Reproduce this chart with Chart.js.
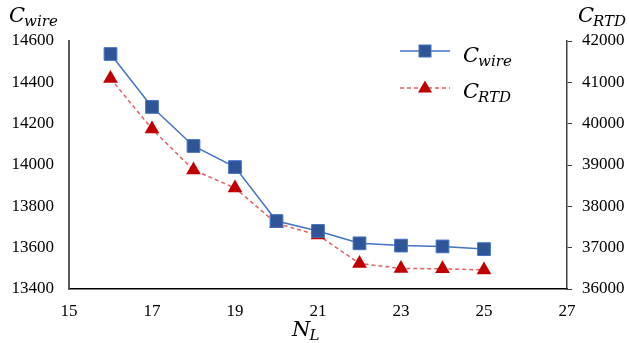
<!DOCTYPE html>
<html><head><meta charset="utf-8">
<script src="https://cdn.jsdelivr.net/npm/chart.js@4/dist/chart.umd.min.js"></script>
<style>html,body{margin:0;padding:0;background:#fff}#wrap{width:629px;height:343px;position:relative}</style>
</head><body><div id="wrap"><canvas id="c" width="629" height="343"></canvas></div>
<script>
const nL = [16, 17, 18, 19, 20, 21, 22, 23, 24, 25];
const cWire = [14537, 14281, 14092, 13990, 13729, 13681, 13621, 13610, 13606, 13593];
const cRTD = [41093, 39871, 38879, 38443, 37584, 37306, 36617, 36496, 36490, 36460];
const xTickLabels = [15, 17, 19, 21, 23, 25, 27];
const leftTickLabels = [13400, 13600, 13800, 14000, 14200, 14400, 14600];
const rightTickLabels = [36000, 37000, 38000, 39000, 40000, 41000, 42000];
const seriesNames = [['C', 'wire'], ['C', 'RTD']];
const axisTitles = { left: ['C', 'wire'], right: ['C', 'RTD'], x: ['N', 'L'] };

const BLUE_LINE = '#4472C4', BLUE_MARK = '#2F5597';
const RED_LINE = '#E45F62', RED_MARK = '#C00000';
const MATH_FONT = '"DejaVu Serif"';
const TICK_FONT = { family: '"Liberation Serif"', size: 17 };

function subText(ctx, parts, x, y, mainSize, subSize, drop) {
  ctx.save();
  ctx.fillStyle = '#000';
  ctx.textBaseline = 'alphabetic';
  ctx.textAlign = 'left';
  ctx.font = 'italic ' + mainSize + 'px ' + MATH_FONT;
  ctx.fillText(parts[0], x, y);
  const w = ctx.measureText(parts[0]).width;
  ctx.font = 'italic ' + subSize + 'px ' + MATH_FONT;
  ctx.fillText(parts[1], x + w - 1, y + drop);
  ctx.restore();
}

const decor = {
  id: 'decor',
  afterDraw(chart) {
    const ctx = chart.ctx;
    subText(ctx, axisTitles.left, 9, 22, 21, 15, 4);
    subText(ctx, axisTitles.right, 578, 22, 21, 15, 4);
    subText(ctx, axisTitles.x, 292, 336, 21, 15, 4);
    // legend
    ctx.save();
    ctx.lineWidth = 1.5;
    ctx.strokeStyle = BLUE_LINE;
    ctx.beginPath(); ctx.moveTo(400, 51); ctx.lineTo(450, 51); ctx.stroke();
    ctx.fillStyle = BLUE_MARK;
    ctx.fillRect(419, 45, 12, 12);
    ctx.strokeStyle = BLUE_LINE; ctx.lineWidth = 1;
    ctx.strokeRect(419, 45, 12, 12);
    ctx.strokeStyle = RED_LINE; ctx.lineWidth = 1.5;
    ctx.setLineDash([4, 3]);
    ctx.beginPath(); ctx.moveTo(400, 88); ctx.lineTo(450, 88); ctx.stroke();
    ctx.setLineDash([]);
    ctx.fillStyle = RED_MARK;
    ctx.beginPath(); ctx.moveTo(425, 80.5); ctx.lineTo(432, 92.5); ctx.lineTo(418, 92.5); ctx.closePath(); ctx.fill();
    ctx.restore();
    subText(ctx, seriesNames[0], 463, 62, 21, 15, 4);
    subText(ctx, seriesNames[1], 463, 98, 21, 15, 4);
  }
};

new Chart(document.getElementById('c'), {
  type: 'scatter',
  data: {
    datasets: [
      {
        label: 'C_wire', yAxisID: 'y',
        data: nL.map((x, i) => ({ x, y: cWire[i] })),
        showLine: true, borderColor: BLUE_LINE, borderWidth: 1.5,
        pointStyle: 'rect', pointRadius: 9, pointBackgroundColor: BLUE_MARK,
        pointBorderColor: BLUE_LINE, pointBorderWidth: 1
      },
      {
        label: 'C_RTD', yAxisID: 'y1',
        data: nL.map((x, i) => ({ x, y: cRTD[i] })),
        showLine: true, borderColor: RED_LINE, borderWidth: 1.5, borderDash: [4, 3],
        pointStyle: 'triangle', pointRadius: 8.5, pointBackgroundColor: RED_MARK,
        pointBorderColor: RED_MARK, pointBorderWidth: 0
      }
    ]
  },
  options: {
    responsive: false, devicePixelRatio: 1, animation: false,
    layout: { padding: { top: 41, left: 0, right: 0, bottom: 0 } },
    plugins: { legend: { display: false }, tooltip: { enabled: false } },
    scales: {
      x: {
        type: 'linear', min: 15, max: 27,
        afterBuildTicks: s => { s.ticks = xTickLabels.map(v => ({ value: v })); },
        afterFit: s => { s.height = 54; },
        grid: { display: true, drawOnChartArea: false, drawTicks: false },
        border: { color: '#000', width: 1.5 },
        ticks: { padding: 12, color: '#000', font: TICK_FONT, maxRotation: 0 }
      },
      y: {
        position: 'left', min: 13400, max: 14600,
        afterBuildTicks: s => { s.ticks = leftTickLabels.map(v => ({ value: v })); },
        afterFit: s => { s.width = 69; },
        grid: { display: true, drawOnChartArea: false, drawTicks: false },
        border: { color: '#595959', width: 2 },
        ticks: { padding: 15, color: '#000', font: TICK_FONT, callback: v => String(v) }
      },
      y1: {
        position: 'right', min: 36000, max: 42000,
        afterBuildTicks: s => { s.ticks = rightTickLabels.map(v => ({ value: v })); },
        afterFit: s => { s.width = 62; },
        grid: { display: true, drawOnChartArea: false, drawTicks: true, tickLength: 5, color: '#404040', tickWidth: 1 },
        border: { color: '#404040', width: 1.5 },
        ticks: { padding: 10, color: '#000', font: TICK_FONT, callback: v => String(v) }
      }
    }
  },
  plugins: [decor]
});
</script></body></html>
